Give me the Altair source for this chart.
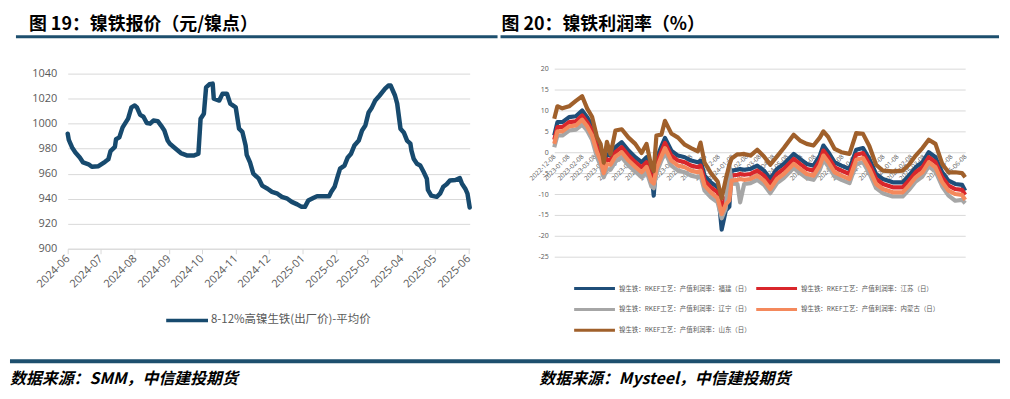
import altair as alt
import pandas as pd

# ---------------- Left chart data: 镍铁报价 ----------------
price_dates = [
    "2024-06-01", "2024-06-02", "2024-06-05", "2024-06-08", "2024-06-12", "2024-06-15",
    "2024-06-20", "2024-06-23", "2024-06-29", "2024-07-05", "2024-07-08", "2024-07-10",
    "2024-07-14", "2024-07-15", "2024-07-18", "2024-07-21", "2024-07-26", "2024-07-29",
    "2024-08-01", "2024-08-03", "2024-08-06", "2024-08-09", "2024-08-12", "2024-08-15",
    "2024-08-18", "2024-08-22", "2024-08-25", "2024-08-28", "2024-08-31", "2024-09-02",
    "2024-09-06", "2024-09-12", "2024-09-18", "2024-09-24", "2024-09-28", "2024-09-30",
    "2024-10-03", "2024-10-05", "2024-10-08", "2024-10-11", "2024-10-12", "2024-10-17",
    "2024-10-20", "2024-10-24", "2024-10-27", "2024-11-01", "2024-11-04", "2024-11-07",
    "2024-11-10", "2024-11-11", "2024-11-14", "2024-11-17", "2024-11-22", "2024-11-25",
    "2024-11-30", "2024-12-04", "2024-12-09", "2024-12-13", "2024-12-18", "2024-12-22",
    "2024-12-27", "2024-12-31", "2025-01-03", "2025-01-06", "2025-01-11", "2025-01-14",
    "2025-01-20", "2025-01-25", "2025-01-27", "2025-01-30", "2025-02-02", "2025-02-04",
    "2025-02-08", "2025-02-11", "2025-02-14", "2025-02-17", "2025-02-21", "2025-02-24",
    "2025-02-27", "2025-03-02", "2025-03-05", "2025-03-08", "2025-03-12", "2025-03-17",
    "2025-03-20", "2025-03-22", "2025-03-26", "2025-03-28", "2025-03-31", "2025-04-03",
    "2025-04-06", "2025-04-09", "2025-04-10", "2025-04-12", "2025-04-15", "2025-04-18",
    "2025-04-21", "2025-04-24", "2025-04-25", "2025-04-28", "2025-05-03", "2025-05-06",
    "2025-05-09", "2025-05-12", "2025-05-15", "2025-05-20", "2025-05-24", "2025-05-26",
    "2025-05-29", "2025-05-31", "2025-06-02",
]
price_values = [
    992, 987, 981, 977, 973, 969,
    967.5, 965.5, 966, 969.5, 971.5, 978,
    981.5, 987.5, 989, 997, 1004, 1013,
    1014.5, 1013, 1007, 1005.5, 1000.5, 1000,
    1002.5, 1002, 998.5, 994.5, 986.5, 984,
    981, 976.5, 974.5, 974.5, 976, 1004,
    1008, 1029, 1031.5, 1032, 1020, 1018.5,
    1024, 1024, 1016, 1013, 996, 993.5,
    982.5, 975, 969, 960, 956, 950.5,
    948, 945.5, 944, 941.5, 940, 937.5,
    935.5, 933.5, 933.5, 938.5, 940.8, 942,
    942, 942, 945.5, 949.5, 958.5, 964,
    966.5, 973, 976, 982.5, 986.5, 994.5,
    998.5, 1009, 1013, 1018.5, 1022.5, 1028,
    1030.5, 1030.5, 1022.5, 1016, 996, 993,
    986.5, 984, 978.5, 972, 968, 966.5,
    961.5, 956, 947, 942.5, 941.5, 944,
    949.5, 951.5, 954.5, 955, 956.5, 952,
    948, 944, 933,
]
price_x_ticks = ["2024-06", "2024-07", "2024-08", "2024-09", "2024-10", "2024-11", "2024-12",
                 "2025-01", "2025-02", "2025-03", "2025-04", "2025-05", "2025-06"]
price_y_ticks = [900, 920, 940, 960, 980, 1000, 1020, 1040]
price_name = "8-12%高镍生铁(出厂价)-平均价"

# ---------------- Right chart data: 镍铁利润率 ----------------
profit_dates = [
    "2022-12-08", "2022-12-15", "2022-12-26", "2023-01-10", "2023-01-25", "2023-02-08",
    "2023-02-19", "2023-03-02", "2023-03-13", "2023-03-21", "2023-03-28", "2023-04-04",
    "2023-04-12", "2023-04-23", "2023-05-07", "2023-05-22", "2023-06-06", "2023-06-20",
    "2023-07-01", "2023-07-12", "2023-07-17", "2023-07-23", "2023-08-03", "2023-08-11",
    "2023-08-25", "2023-09-09", "2023-09-24", "2023-10-08", "2023-10-23", "2023-10-29",
    "2023-11-07", "2023-11-21", "2023-12-06", "2023-12-15", "2023-12-24", "2024-01-01",
    "2024-01-06", "2024-01-19", "2024-01-25", "2024-02-03", "2024-02-17", "2024-03-03",
    "2024-03-18", "2024-04-01", "2024-04-16", "2024-05-01", "2024-05-23", "2024-06-06",
    "2024-06-21", "2024-07-06", "2024-07-20", "2024-07-28", "2024-08-08", "2024-08-22",
    "2024-09-06", "2024-09-24", "2024-10-09", "2024-10-24", "2024-11-07", "2024-11-22",
    "2024-12-07", "2024-12-29", "2025-01-20", "2025-02-03", "2025-02-18", "2025-03-05",
    "2025-03-19", "2025-04-03", "2025-04-18", "2025-05-02", "2025-05-17", "2025-06-01",
    "2025-06-08",
]
fujian = [
    4.0, 7.2, 7.2, 8.4, 8.6, 10.0,
    8.4, 6.4, 2.4, 0.5, -2.4, -0.5,
    -0.8, 1.2, 2.4, 0.4, -1.2, -2.4,
    -1.2, -4.8, -10.4, -1.6, 1.4, 3.4,
    0.4, -0.8, -1.2, -2.0, -2.4, -2.0,
    -5.6, -7.2, -8.4, -18.5, -14.0, -13.0,
    -4.4, -4.2, -4.0, -4.2, -4.0, -3.2,
    -4.4, -6.4, -4.0, -2.8, -0.4, -1.6,
    -2.8, -3.2, -0.8, 1.6, 0.0, -2.4,
    -3.2, -4.0, 0.6, 1.0, -1.6, -5.2,
    -6.4, -7.2, -7.2, -5.6, -3.6, -2.4,
    0.0, -1.2, -4.8, -6.8, -7.6, -7.8,
    -9.2,
]
jiangsu = [
    3.0, 6.0, 6.0, 7.2, 7.4, 8.8,
    7.2, 5.2, 1.2, -0.7, -3.6, -1.7,
    -2.0, 0.0, 1.2, -0.8, -2.4, -3.6,
    -2.4, -6.0, -6.5, -2.8, 0.2, 2.2,
    -0.8, -2.0, -2.4, -3.2, -3.6, -3.2,
    -6.8, -8.4, -9.6, -13.0, -11.0, -10.0,
    -5.6, -5.4, -5.2, -5.4, -5.2, -4.4,
    -5.6, -7.6, -5.2, -4.0, -1.6, -2.8,
    -4.0, -4.4, -2.0, 0.4, -1.2, -3.6,
    -4.4, -5.2, -0.6, -0.2, -2.8, -6.4,
    -7.6, -8.4, -8.4, -6.8, -4.8, -3.6,
    -1.2, -2.4, -6.0, -8.0, -8.8, -9.0,
    -10.2,
]
liaoning = [
    1.2, 4.0, 4.0, 5.2, 5.4, 6.6,
    5.2, 3.0, -1.2, -3.2, -6.0, -4.0,
    -4.2, -2.2, -1.2, -3.2, -4.6, -6.0,
    -4.6, -8.2, -8.6, -5.0, -2.0, 0.0,
    -3.2, -4.4, -4.8, -5.6, -6.0, -5.6,
    -9.2, -10.8, -12.0, -15.8, -13.5, -3.0,
    -7.5, -7.6, -12.0, -7.6, -7.4, -6.6,
    -7.8, -9.8, -7.4, -6.2, -3.8, -5.0,
    -6.2, -6.6, -4.2, -1.8, -3.4, -5.8,
    -6.6, -7.4, -2.8, -2.4, -5.0, -8.6,
    -9.8, -10.6, -10.6, -9.0, -7.0, -5.8,
    -3.4, -4.6, -8.2, -10.4, -11.6, -11.4,
    -12.2,
]
neimenggu = [
    2.0, 5.0, 5.0, 6.2, 6.4, 7.8,
    6.2, 4.0, 0.0, -2.0, -5.0, -2.8,
    -3.0, -1.0, 0.0, -2.0, -3.5, -4.8,
    -3.5, -7.0, -7.5, -4.0, -1.0, 1.0,
    -2.0, -3.2, -3.6, -4.4, -4.8, -4.4,
    -8.0, -9.6, -11.0, -14.8, -12.5, -11.5,
    -6.8, -6.6, -6.4, -6.6, -6.4, -5.6,
    -6.8, -8.8, -6.4, -5.2, -2.8, -4.0,
    -5.2, -5.6, -3.2, -0.8, -2.4, -4.8,
    -5.6, -6.4, -1.8, -1.4, -4.0, -7.6,
    -8.8, -9.6, -9.6, -8.0, -6.0, -4.8,
    -2.4, -3.6, -7.2, -9.2, -10.0, -10.2,
    -11.4,
]
shandong = [
    8.0, 11.0, 10.5, 11.0, 12.3, 13.4,
    10.5, 8.5, 3.6, 2.0, -2.5, 2.5,
    -0.5, 5.2, 5.5, 3.5, 2.0, -0.2,
    2.0, -3.5, -4.5, 4.0, 4.2, 7.5,
    4.5, 3.5, 1.8, 1.0, 0.2, 2.3,
    -2.5, -5.0, -7.0, -11.0, -6.5, -3.0,
    -1.5, -0.5, -0.5, -0.4, -0.8, 0.6,
    -1.0, -3.0, -1.0, 1.0, 4.2, 2.8,
    2.0, 1.6, 3.5, 5.0, 3.6, 0.8,
    0.0, -0.4, 4.6, 4.4, 1.5, -3.0,
    -4.4, -4.6, -4.4, -3.0, -0.8, 1.0,
    3.0, 2.0, -2.8, -4.8, -4.8, -5.0,
    -6.0,
]
profit_x_ticks = [
    "2022-12-08", "2023-01-08", "2023-02-08", "2023-03-08", "2023-04-08", "2023-05-08",
    "2023-06-08", "2023-07-08", "2023-08-08", "2023-09-08", "2023-10-08", "2023-11-08",
    "2023-12-08", "2024-01-08", "2024-02-08", "2024-03-08", "2024-04-08", "2024-05-08",
    "2024-06-08", "2024-07-08", "2024-08-08", "2024-09-08", "2024-10-08", "2024-11-08",
    "2024-12-08", "2025-01-08", "2025-02-08", "2025-03-08", "2025-04-08", "2025-05-08",
    "2025-06-08",
]
profit_y_ticks = [-25, -20, -15, -10, -5, 0, 5, 10, 15, 20]
profit_names = [
    "镍生铁：RKEF工艺：产值利润率：福建（日）",
    "镍生铁：RKEF工艺：产值利润率：江苏（日）",
    "镍生铁：RKEF工艺：产值利润率：辽宁（日）",
    "镍生铁：RKEF工艺：产值利润率：内蒙古（日）",
    "镍生铁：RKEF工艺：产值利润率：山东（日）",
]
profit_series = [fujian, jiangsu, liaoning, neimenggu, shandong]
profit_colors = ["#1F4E79", "#D9262B", "#A6A6A6", "#F4895C", "#A0602B"]
price_color = "#174A6E"
rule_color = "#1D4F6E"

CJK = "Noto Sans CJK SC"
NUM = "Open Sans"
GRID = "#D9D9D9"
LABEL = "#595959"


def dt(s):
    p = s.split("-")
    return alt.DateTime(year=int(p[0]), month=int(p[1]), date=int(p[2]) if len(p) > 2 else 1)


one = pd.DataFrame({"k": [0]})


def text_layer(txt, x, y, size, color="#000000", weight="normal", style="normal",
               align="left", baseline="middle", font=CJK):
    return alt.Chart(one).mark_text(
        text=txt, fontSize=size, color=color, fontWeight=weight, fontStyle=style,
        align=align, baseline=baseline, font=font
    ).encode(x=alt.value(x), y=alt.value(y))


def hrule(x1, x2, y, color, width):
    return alt.Chart(one).mark_rule(color=color, strokeWidth=width).encode(
        x=alt.value(x1), x2=alt.value(x2), y=alt.value(y))


TITLE_Y = -53

# ---------------- Left panel ----------------
LW, LH = 404, 189
left_df = pd.DataFrame({"date": price_dates, "price": price_values})

left_line = alt.Chart(left_df).mark_line(
    color=price_color, strokeWidth=4.5, strokeJoin="round", strokeCap="round"
).encode(
    x=alt.X("date:T", title=None,
            scale=alt.Scale(domain=[dt("2024-06-01"), dt("2025-06-02")]),
            axis=alt.Axis(values=[dt(t) for t in price_x_ticks], format="%Y-%m",
                          labelAngle=-45, labelAlign="right", labelBaseline="middle",
                          labelFontSize=11, labelColor=LABEL, labelFont=NUM,
                          labelPadding=3, labelOverlap=False, labelBound=False,
                          tickColor=GRID, tickSize=5, domainColor=GRID,
                          grid=False, offset=-8)),
    y=alt.Y("price:Q", title=None,
            scale=alt.Scale(domain=[900, 1040], range=[181, 5], nice=False, zero=False),
            axis=alt.Axis(values=price_y_ticks, format="d", grid=True, gridColor=GRID,
                          domain=False, ticks=False, labelFontSize=11,
                          labelColor=LABEL, labelFont=NUM, labelPadding=11)),
)

left_layers = [
    left_line,
    text_layer("图 19：镍铁报价（元/镍点）", -39, TITLE_Y, 18, weight="bold", baseline="top"),
    hrule(-52, 432, -32, rule_color, 3),
    hrule(-58, 937, 294, rule_color, 4),
    text_layer("数据来源：SMM，中信建投期货", -58, 312, 16, weight="bold", style="italic"),
    hrule(99, 141, 253, price_color, 3.5),
    text_layer(price_name, 144, 253, 11.5, color=LABEL),
]
left = alt.layer(*left_layers).properties(width=LW, height=LH)

# ---------------- Right panel ----------------
RW, RH = 413, 189
rows = []
for name, vals in zip(profit_names, profit_series):
    for d, v in zip(profit_dates, vals):
        rows.append({"date": d, "value": v, "series": name})
right_df = pd.DataFrame(rows)

rx = alt.X("date:T", title=None,
           scale=alt.Scale(domain=[dt("2022-12-08"), dt("2025-06-08")]),
           axis=alt.Axis(values=[dt(t) for t in profit_x_ticks], format="%Y-%m-%d",
                         labelAngle=-45, labelAlign="right", labelBaseline="middle",
                         labelFontSize=6.5, labelColor=LABEL, labelFont=NUM,
                         labelPadding=3, labelOverlap=False, labelBound=False,
                         domain=False, ticks=False, grid=False, offset=-105))
ry = alt.Y("value:Q", title=None,
           scale=alt.Scale(domain=[-25, 20], nice=False, zero=False),
           axis=alt.Axis(values=profit_y_ticks, grid=True, gridColor=GRID,
                         domain=False, ticks=False, labelFontSize=7,
                         labelColor=LABEL, labelFont=NUM, labelPadding=6,
                         labelExpr="datum.value < 0 ? '-' + abs(datum.value) : '' + datum.value"))

base = alt.Chart(right_df)
right_layers = []
for name, color in zip(profit_names, profit_colors):
    right_layers.append(
        base.transform_filter(alt.datum.series == name)
        .mark_line(color=color, strokeWidth=4.2, strokeJoin="round")
        .encode(x=rx, y=ry)
    )

right_layers += [
    text_layer("图 20：镍铁利润率（%）", -53, TITLE_Y, 18, weight="bold", baseline="top"),
    hrule(-54, 447, -32, rule_color, 3),
    text_layer("数据来源：Mysteel，中信建投期货", -15, 312, 16, weight="bold", style="italic"),
]

legend_pos = [(20, 221), (203, 221), (20, 242), (203, 242), (20, 263)]
for (lx, ly), name, color in zip(legend_pos, profit_names, profit_colors):
    right_layers.append(hrule(lx, lx + 41, ly, color, 3))
    right_layers.append(text_layer(name, lx + 45, ly, 6.5, color=LABEL))

right = alt.layer(*right_layers).properties(width=RW, height=RH)

chart = alt.hconcat(left, right, spacing=85, bounds="flush").properties(
    padding={"left": 0, "top": 7, "right": 0, "bottom": 0}
).configure_view(stroke=None)

chart.save("out.html", embed_options={"renderer": "svg", "actions": False})
